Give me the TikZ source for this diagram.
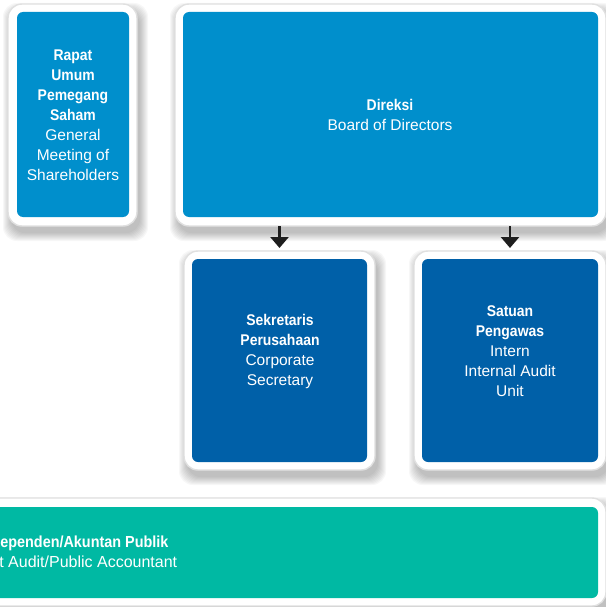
\documentclass[tikz,border=0pt]{standalone}
\usepackage{fontspec}
\setmainfont{Liberation Sans}[BoldFeatures={FakeStretch=0.9}]
\usetikzlibrary{arrows.meta}
\definecolor{lblue}{RGB}{0,143,204}
\definecolor{dblue}{RGB}{0,96,168}
\definecolor{teal}{RGB}{0,185,163}
\definecolor{arrowc}{RGB}{30,30,30}
\pgfdeclarelayer{background}
\pgfsetlayers{background,main}
\tikzset{
  frame/.style={rectangle, rounded corners=14pt, fill=white, draw=black!12, line width=1.4pt, inner sep=0pt, outer sep=0pt},
  innerbox/.style={rectangle, rounded corners=6pt, inner sep=0pt, outer sep=0pt},
  label/.style={text=white, align=center, font=\fontsize{15.5}{20}\selectfont, inner sep=0pt},
  arr/.style={draw=arrowc, line width=2.6pt, -{Triangle[width=18pt,length=11pt]}, shorten >=3pt}
}
\newcommand{\softshadow}[1]{%
  \begin{pgfonlayer}{background}
  \foreach \i in {0,...,8}{
    \fill[black, opacity=0.03, rounded corners=14pt]
      ([shift={(3-\i,7-\i)}]#1.north west) rectangle ([shift={(3+\i,7+\i)}]#1.south east);
  }
  \end{pgfonlayer}}
\begin{document}
\begin{tikzpicture}[x=1pt,y=-1pt]
\useasboundingbox (0,0) rectangle (605,607);
% frames
\node[frame, minimum width=129pt, minimum height=222pt] (fgms) at (72.5,115) {};
\node[frame, minimum width=431pt, minimum height=222pt] (fdir) at (390.5,115) {};
\node[frame, minimum width=191pt, minimum height=219pt] (fsek) at (279.5,360.5) {};
\node[frame, minimum width=192pt, minimum height=219pt] (fspi) at (510,360.5) {};
\node[frame, minimum width=636pt, minimum height=108pt] (fkap) at (288,552) {};
\softshadow{fgms}
\softshadow{fdir}
\softshadow{fsek}
\softshadow{fspi}
\softshadow{fkap}
% inner boxes
\node[innerbox, fill=lblue, minimum width=112pt, minimum height=205pt] (bgms) at (73,114.5) {};
\node[innerbox, fill=lblue, minimum width=415pt, minimum height=205pt] (bdir) at (390.5,114.5) {};
\node[innerbox, fill=dblue, minimum width=175pt, minimum height=203pt] (bsek) at (279.5,360.5) {};
\node[innerbox, fill=dblue, minimum width=176pt, minimum height=203pt] (bspi) at (510,360.5) {};
\node[innerbox, fill=teal, minimum width=628pt, minimum height=91pt] (bkap) at (284,552.5) {};
% texts
\node[label] (tgms) at (73,115) {\textbf{Rapat}\\\textbf{Umum}\\\textbf{Pemegang}\\\textbf{Saham}\\General\\Meeting of\\Shareholders};
\node[label] (tdir) at (390,115) {\textbf{Direksi}\\Board of Directors};
\node[label] (tsek) at (280,351) {\textbf{Sekretaris}\\\textbf{Perusahaan}\\Corporate\\Secretary};
\node[label] (tspi) at (510,351) {\textbf{Satuan}\\\textbf{Pengawas}\\Intern\\Internal Audit\\Unit};
\node[label, font=\fontsize{16}{20}\selectfont] (tkap) at (46,553) {\textbf{Auditor Independen/Akuntan Publik}\\Independent Audit/Public Accountant};
% arrows
\draw[arr] (fdir.south -| fsek.north) -- (fsek.north);
\draw[arr] (fdir.south -| fspi.north) -- (fspi.north);
\end{tikzpicture}
\end{document}
